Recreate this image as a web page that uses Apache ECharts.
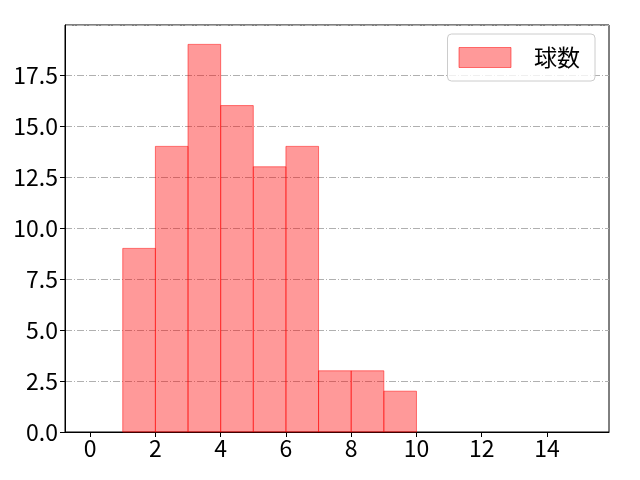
<!DOCTYPE html>
<html><head><meta charset="utf-8">
<script src="https://cdn.jsdelivr.net/npm/echarts@6/dist/echarts.min.js"></script>
<style>html,body{margin:0;padding:0;background:#fff}#c{width:640px;height:480px}</style>
</head><body><div id="c"></div>
<script>
const binStarts = [1, 2, 3, 4, 5, 6, 7, 8, 9];
const binWidth = 1;
const counts = [9, 14, 19, 16, 13, 14, 3, 3, 2];
const xTicks = [0, 2, 4, 6, 8, 10, 12, 14];
const seriesName = '球数';

const data = binStarts.map((s, i) => [s, s + binWidth, counts[i]]);
const FONT = '"Noto Sans CJK JP", "DejaVu Sans", sans-serif';

const chart = echarts.init(document.getElementById('c'), null, {renderer: 'canvas'});
chart.setOption({
  animation: false,
  backgroundColor: '#fff',
  grid: {left: 65, right: 31, top: 25, bottom: 48, show: true, borderColor: '#000', borderWidth: 1},
  legend: {
    right: 45, top: 34,
    orient: 'vertical',
    icon: 'rect', itemWidth: 52, itemHeight: 20,
    padding: [12, 15, 12, 11],
    backgroundColor: 'rgba(255,255,255,0.8)',
    borderColor: '#cccccc', borderWidth: 1, borderRadius: 4,
    textStyle: {fontFamily: FONT, fontSize: 23, color: '#000', padding: [0, 0, 0, 18]},
    data: [{name: seriesName, itemStyle: {color: 'rgba(255,0,0,0.4)', borderColor: 'rgba(255,0,0,0.5)', borderWidth: 1}}]
  },
  xAxis: {
    type: 'value', min: -0.77, max: 15.9,
    axisLine: {show: true, onZero: false, lineStyle: {color: '#000', width: 1}},
    axisTick: {show: true, length: 5, lineStyle: {color: '#000'}, customValues: xTicks},
    axisLabel: {customValues: xTicks, fontFamily: FONT, fontSize: 23, color: '#000', margin: 5},
    splitLine: {show: false}
  },
  yAxis: {
    type: 'value', min: 0, max: 19.95, interval: 2.5,
    axisLine: {show: true, onZero: false, lineStyle: {color: '#000', width: 1}},
    axisTick: {show: true, length: 5, lineStyle: {color: '#000'}},
    axisLabel: {fontFamily: FONT, fontSize: 23, color: '#000', margin: 7, showMaxLabel: false,
      formatter: v => v.toFixed(1)},
    splitLine: {show: true, lineStyle: {color: '#b0b0b0', width: 1, type: [7, 2, 1, 2]}}
  },
  series: [{
    name: seriesName,
    type: 'custom',
    encode: {x: [0, 1], y: 2},
    itemStyle: {color: 'rgba(255,0,0,0.4)'},
    renderItem: function (params, api) {
      const p0 = api.coord([api.value(0), api.value(2)]);
      const p1 = api.coord([api.value(1), 0]);
      return {
        type: 'rect',
        shape: {x: p0[0], y: p0[1], width: p1[0] - p0[0], height: p1[1] - p0[1]},
        style: {fill: 'rgba(255,0,0,0.4)', stroke: 'rgba(255,0,0,0.5)', lineWidth: 1}
      };
    },
    data: data
  }]
});
</script></body></html>
